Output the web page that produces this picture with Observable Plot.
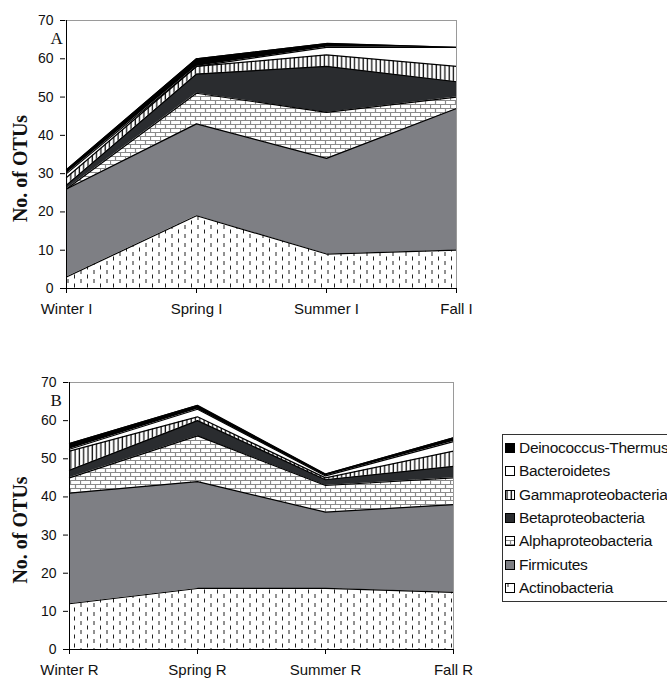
<!DOCTYPE html>
<html><head><meta charset="utf-8">
<script src="https://cdn.jsdelivr.net/npm/d3@7"></script>
<script src="https://cdn.jsdelivr.net/npm/@observablehq/plot@0.6"></script>
<style>
body{margin:0;background:#fff;overflow:hidden;}
#wrap{position:relative;width:667px;height:678px;overflow:hidden;background:#fff;}
#a{position:absolute;left:0;top:0}
#b{position:absolute;left:0;top:360px}
#legend{position:absolute;left:502px;top:434px;width:300px;height:168px;border:1px solid #333;box-sizing:border-box;font-family:"Liberation Sans",Arial,sans-serif;font-size:15.5px;letter-spacing:-0.3px;color:#111;}
.item{position:absolute;left:2px;height:18px;line-height:18px;white-space:nowrap;display:flex;align-items:center;}
.item svg{margin-right:4px;}
</style></head><body>
<svg width="0" height="0" style="position:absolute"><defs>
<pattern id="pAct" patternUnits="userSpaceOnUse" width="13" height="9">
 <rect width="13" height="9" fill="#fff"/>
 <line x1="3" y1="0" x2="3" y2="4" stroke="#222" stroke-width="1"/>
 <line x1="9.5" y1="4.5" x2="9.5" y2="8.5" stroke="#222" stroke-width="1"/>
</pattern>
<pattern id="pAlpha" patternUnits="userSpaceOnUse" width="10" height="8">
 <rect width="10" height="8" fill="#fff"/>
 <path d="M0 0.5H10M0 4.5H10M0.5 0.5V4.5M5.5 4.5V8.5" stroke="#8a8a8a" stroke-width="1.2" fill="none"/>
</pattern>
<pattern id="pGam" patternUnits="userSpaceOnUse" width="4.3" height="10">
 <rect width="4.3" height="10" fill="#fff"/>
 <line x1="2" y1="0" x2="2" y2="10" stroke="#111" stroke-width="1.3"/>
</pattern>
</defs></svg>
<div id="wrap"><div id="a"></div><div id="b"></div><div id="legend"></div></div>
<script>
const seriesNames = ["Actinobacteria","Firmicutes","Alphaproteobacteria","Betaproteobacteria","Gammaproteobacteria","Bacteroidetes","Deinococcus-Thermus"];
const seriesFills = ["url(#pAct)","#7e7f84","url(#pAlpha)","#2a2c2f","url(#pGam)","#ffffff","#000000"];
const yTicks = [0,10,20,30,40,50,60,70];

const seasonsA = ["Winter I","Spring I","Summer I","Fall I"];
const actinoA = [3,19,9,10];
const firmA   = [23,24,25,37];
const alphaA  = [0,8,12,3];
const betaA   = [1,5,12,4];
const gammaA  = [2,2,3,4];
const bactA   = [1,0,2,5];
const deinoA  = [1,2,1,0];

const seasonsB = ["Winter R","Spring R","Summer R","Fall R"];
const actinoB = [12,16,16,15];
const firmB   = [29,28,20,23];
const alphaB  = [4,12,7,7];
const betaB   = [2,4,1.5,3];
const gammaB  = [5,1,0.5,4];
const bactB   = [0.5,2,0.5,2.5];
const deinoB  = [1.5,1,0.5,1];

function toRows(seasons, arrays){
  const rows=[];
  arrays.forEach((arr,i)=>arr.forEach((v,j)=>rows.push({season:seasons[j],series:seriesNames[i],value:v})));
  return rows;
}

function panel(seasons, arrays, letter, m){
  const rows = toRows(seasons, arrays);
  const svg = Plot.plot({
    width: 470, height: 318,
    marginLeft: m.left, marginRight: 470-m.right, marginTop: m.top, marginBottom: m.bottom,
    style:{fontFamily:"'Liberation Sans',Arial,sans-serif",color:"#111",background:"transparent",overflow:"visible"},
    x:{type:"point",domain:seasons,padding:0,axis:null,label:null},
    y:{domain:[0,70],axis:null,label:null},
    color:{type:"ordinal",domain:seriesNames,range:seriesFills},
    marks:[
      Plot.areaY(rows,{x:"season",y:"value",z:"series",fill:"series",order:seriesNames}),
      Plot.lineY(rows,Plot.stackY2({x:"season",y:"value",z:"series",order:seriesNames,stroke:"#000",strokeWidth:1.2})),
      Plot.ruleY([70],{stroke:"#9a9a9a"}),
      Plot.ruleX([seasons[seasons.length-1]],{stroke:"#9a9a9a"}),
      Plot.ruleY([0],{stroke:"#000"}),
      Plot.ruleX([seasons[0]],{stroke:"#000"}),
      Plot.axisY({ticks:yTicks,tickFormat:d=>String(d),tickSize:5,tickPadding:7,fontSize:14,stroke:"#000",label:null}),
      Plot.axisX({tickSize:5,tickPadding:10,fontSize:15,stroke:"#000",label:null}),
      Plot.text(["No. of OTUs"],{frameAnchor:"left",rotate:-90,textAnchor:"middle",lineAnchor:"middle",dx:-45-(m.left-65),dy:14,fontFamily:"'Liberation Serif','DejaVu Serif',serif",fontWeight:"bold",fontSize:20,fill:"#111"}),
      Plot.text([letter],{frameAnchor:"top-left",textAnchor:"start",lineAnchor:"middle",dx:-15-(m.left-65),dy:18,fontFamily:"'Liberation Serif','DejaVu Serif',serif",fontSize:17,fill:"#111"})
    ]
  });
  return svg;
}

document.getElementById("a").appendChild(panel(seasonsA,[actinoA,firmA,alphaA,betaA,gammaA,bactA,deinoA],"A",{left:65,right:457,top:20,bottom:30}));
document.getElementById("b").appendChild(panel(seasonsB,[actinoB,firmB,alphaB,betaB,gammaB,bactB,deinoB],"B",{left:68,right:453,top:22,bottom:29}));

const legend = document.getElementById("legend");
const legendOrder = seriesNames.slice().reverse();
legendOrder.forEach((name,i)=>{
  const fill = seriesFills[seriesNames.indexOf(name)];
  const d = document.createElement("div");
  d.className="item";
  d.style.top = (448 + i*23.3 - 435 - 9) + "px";
  d.innerHTML = `<svg width="10" height="10"><rect x="0.5" y="0.5" width="9" height="9" fill="${fill}" stroke="#000" stroke-width="1"/></svg><span>${name}</span>`;
  legend.appendChild(d);
});
</script>
</body></html>
